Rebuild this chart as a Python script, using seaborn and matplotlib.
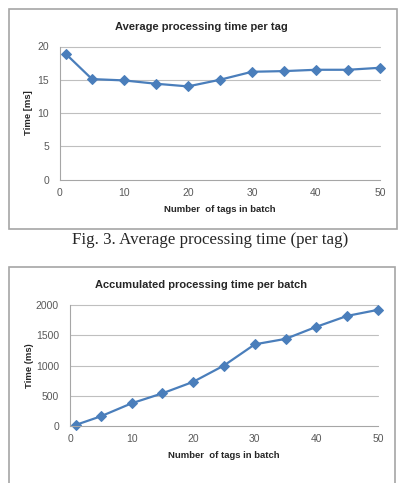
import numpy as np
import pandas as pd
import matplotlib
matplotlib.use('Agg')
import matplotlib.pyplot as plt
from matplotlib.patches import Rectangle
import seaborn as sns

# data
tags = [1, 5, 10, 15, 20, 25, 30, 35, 40, 45, 50]
avg_time = [18.8, 15.1, 14.9, 14.4, 14.0, 15.0, 16.2, 16.3, 16.5, 16.5, 16.8]
acc_time = [20, 160, 375, 540, 730, 1000, 1350, 1440, 1640, 1820, 1920]

x_ticks = [0, 10, 20, 30, 40, 50]
y_ticks_top = [0, 5, 10, 15, 20]
y_ticks_bot = [0, 500, 1000, 1500, 2000]

sns.set_style('white')
plt.rcParams['font.family'] = ['Liberation Sans', 'DejaVu Sans']

W, H = 403, 483
fig = plt.figure(figsize=(W / 100, H / 100), dpi=100)

line_col = '#4A7EBB'
grid_col = '#BFBFBF'
tick_col = '#595959'


def box(x0, y0, x1, y1):
    # chart frame in pixel coords (y from top)
    r = Rectangle((x0 / W, 1 - y1 / H), (x1 - x0) / W, (y1 - y0) / H,
                  transform=fig.transFigure, fill=False,
                  edgecolor='#A6A6A6', linewidth=1.2)
    fig.patches.append(r)


def make_axes(px_left, px_right, px_top, px_bottom):
    return fig.add_axes([px_left / W, 1 - px_bottom / H,
                         (px_right - px_left) / W, (px_bottom - px_top) / H])


def style(ax, yticks, title, title_y, ylabel, ypad):
    ax.set_xlim(0, 50)
    ax.set_ylim(yticks[0], yticks[-1])
    ax.set_xticks(x_ticks)
    ax.set_yticks(yticks)
    ax.tick_params(length=0, labelsize=7.5, labelcolor=tick_col, pad=6)
    ax.tick_params(axis='y', pad=8)
    for yv in yticks[1:]:
        ax.axhline(yv, color=grid_col, lw=0.8, zorder=0)
    for s in ['top', 'right']:
        ax.spines[s].set_visible(False)
    for s in ['left', 'bottom']:
        ax.spines[s].set_color('#A6A6A6')
        ax.spines[s].set_linewidth(0.8)
    ax.set_xlabel('Number  of tags in batch', fontsize=6.8, fontweight='bold',
                  color='#262626', labelpad=5)
    ax.set_ylabel(ylabel, fontsize=6.8, fontweight='bold',
                  color='#262626', labelpad=ypad)
    for ln in ax.lines:
        ln.set_clip_on(False)
    fig.text(0.5, 1 - title_y / H, title, ha='center', va='center',
             fontsize=8, fontweight='bold', color='#262626')


# top chart
box(9, 9, 397, 229)
ax1 = make_axes(60, 380, 46.5, 179.5)
df1 = pd.DataFrame({'tags': tags, 'time': avg_time})
sns.lineplot(data=df1, x='tags', y='time', ax=ax1, color=line_col, lw=1.6,
             marker='D', markersize=5, markeredgecolor=line_col)
style(ax1, y_ticks_top, 'Average processing time per tag', 27, 'Time [ms]', 3)

fig.text(210 / W, 1 - 240 / H, 'Fig. 3. Average processing time (per tag)',
         ha='center', va='center', fontsize=12.2,
         family=['Liberation Serif', 'DejaVu Serif'])

# bottom chart
box(9, 267, 395, 490)
ax2 = make_axes(70, 378, 305, 426)
df2 = pd.DataFrame({'tags': tags, 'time': acc_time})
sns.lineplot(data=df2, x='tags', y='time', ax=ax2, color=line_col, lw=1.6,
             marker='D', markersize=5, markeredgecolor=line_col)
style(ax2, y_ticks_bot, 'Accumulated processing time per batch', 285, 'Time (ms)', 1)

fig.savefig('out.png', dpi=100)
